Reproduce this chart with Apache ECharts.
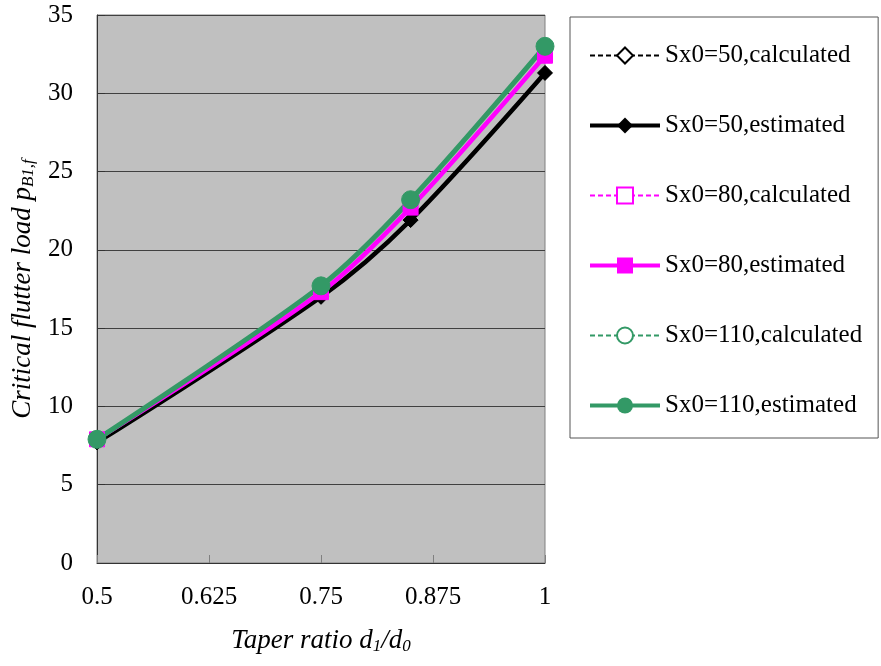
<!DOCTYPE html>
<html>
<head>
    <meta charset="utf-8">
    <title>Taper ratio</title>
    <script type="text/javascript" src="https://cdn.jsdelivr.net/npm/echarts@6/dist/echarts.min.js"></script>
</head>
<body style="margin:0;background:#fff;">
<div id="chart" style="width:881px;height:666px;"></div>
<script type="text/javascript">
    // data
    var taper = [0.5, 0.75, 0.85, 1];
    var calc50 = [7.7, 17.0, 21.9, 31.3];
    var est50 = [7.7, 17.0, 21.9, 31.3];
    var calc80 = [7.9, 17.3, 22.7, 32.4];
    var est80 = [7.9, 17.3, 22.7, 32.4];
    var calc110 = [7.9, 17.7, 23.2, 33.0];
    var est110 = [7.9, 17.7, 23.2, 33.0];
    var xTicks = [0.5, 0.625, 0.75, 0.875, 1];

    var SERIF = "'Liberation Serif', 'Times New Roman', serif";

    function pairs(ys) {
        var out = [];
        for (var i = 0; i < taper.length; i++) {
            out.push([taper[i], ys[i]]);
        }
        return out;
    }

    var myChart = echarts.init(document.getElementById('chart'));

    function calcSeries(name, ys, color, symbol, size) {
        return {
            name: name,
            type: 'line',
            smooth: 0.3,
            data: pairs(ys),
            symbol: symbol,
            symbolSize: size,
            itemStyle: {color: '#fff', borderColor: color, borderWidth: 1.5},
            lineStyle: {color: color, width: 1.5, type: 'dashed'},
            z: 2
        };
    }
    function estSeries(name, ys, color, symbol, size, w) {
        return {
            name: name,
            type: 'line',
            smooth: 0.3,
            data: pairs(ys),
            symbol: symbol,
            symbolSize: size,
            itemStyle: {color: color, borderColor: color},
            lineStyle: {color: color, width: w},
            z: 3
        };
    }

    // legend entries, line widths as in the picture
    function legendItem(name, w, dashed) {
        return {name: name, lineStyle: {width: w, type: dashed ? [5, 3] : 'solid'}};
    }

    var italic = {fontFamily: SERIF, fontStyle: 'italic', fontSize: 27, color: '#000'};
    var italicSub = {fontFamily: SERIF, fontStyle: 'italic', fontSize: 17, color: '#000', padding: [11, 0, 0, 0]};

    var option = {
        animation: false,
        backgroundColor: '#fff',
        textStyle: {fontFamily: SERIF},
        grid: {
            left: 97,
            right: 336,
            top: 15,
            bottom: 103,
            show: true,
            backgroundColor: '#c0c0c0',
            borderColor: '#808080',
            borderWidth: 1
        },
        legend: {
            orient: 'vertical',
            left: 570,
            top: 17,
            padding: [26, 16, 20, 18],
            itemWidth: 70,
            itemHeight: 20,
            itemGap: 45,
            borderColor: '#555',
            borderWidth: 1,
            backgroundColor: '#fff',
            textStyle: {fontFamily: SERIF, fontSize: 25, color: '#000'},
            data: [
                legendItem('Sx0=50,calculated', 2, true),
                legendItem('Sx0=50,estimated', 4, false),
                legendItem('Sx0=80,calculated', 2, true),
                legendItem('Sx0=80,estimated', 4, false),
                legendItem('Sx0=110,calculated', 2, true),
                legendItem('Sx0=110,estimated', 4, false)
            ]
        },
        xAxis: {
            type: 'value',
            min: 0.5,
            max: 1,
            interval: 0.125,
            name: 'Taper ratio {it|d}{sub|1}{it|/d}{sub|0}',
            nameLocation: 'middle',
            nameGap: 64,
            nameTextStyle: {
                fontFamily: SERIF,
                fontStyle: 'italic',
                fontSize: 27,
                color: '#000',
                rich: {it: italic, sub: italicSub}
            },
            axisLine: {lineStyle: {color: '#333', width: 1}},
            axisTick: {inside: true, length: 8, lineStyle: {color: '#808080'}},
            splitLine: {show: false},
            axisLabel: {
                margin: 22,
                fontSize: 25,
                color: '#000',
                fontFamily: SERIF,
                formatter: function (v) {
                    return xTicks.indexOf(v) >= 0 ? String(v) : '';
                }
            }
        },
        yAxis: {
            type: 'value',
            min: 0,
            max: 35,
            interval: 5,
            name: 'Critical flutter load {it|p}{sub|B1,f}',
            nameLocation: 'middle',
            nameGap: 60,
            nameTextStyle: {
                fontFamily: SERIF,
                fontStyle: 'italic',
                fontSize: 27,
                color: '#000',
                rich: {it: italic, sub: italicSub}
            },
            axisLine: {show: true, lineStyle: {color: '#333', width: 1}},
            axisTick: {show: true, inside: true, length: 8, lineStyle: {color: '#333'}},
            splitLine: {show: true, lineStyle: {color: '#404040', width: 1}},
            axisLabel: {margin: 24, fontSize: 25, color: '#000', fontFamily: SERIF}
        },
        series: [
            calcSeries('Sx0=50,calculated', calc50, '#000', 'diamond', 12),
            calcSeries('Sx0=80,calculated', calc80, '#ff00ff', 'rect', 12),
            calcSeries('Sx0=110,calculated', calc110, '#339966', 'circle', 12),
            estSeries('Sx0=50,estimated', est50, '#000', 'diamond', 15, 4.5),
            estSeries('Sx0=80,estimated', est80, '#ff00ff', 'rect', 15, 4.5),
            estSeries('Sx0=110,estimated', est110, '#339966', 'circle', 18, 5)
        ]
    };
    myChart.setOption(option);
</script>
</body>
</html>
